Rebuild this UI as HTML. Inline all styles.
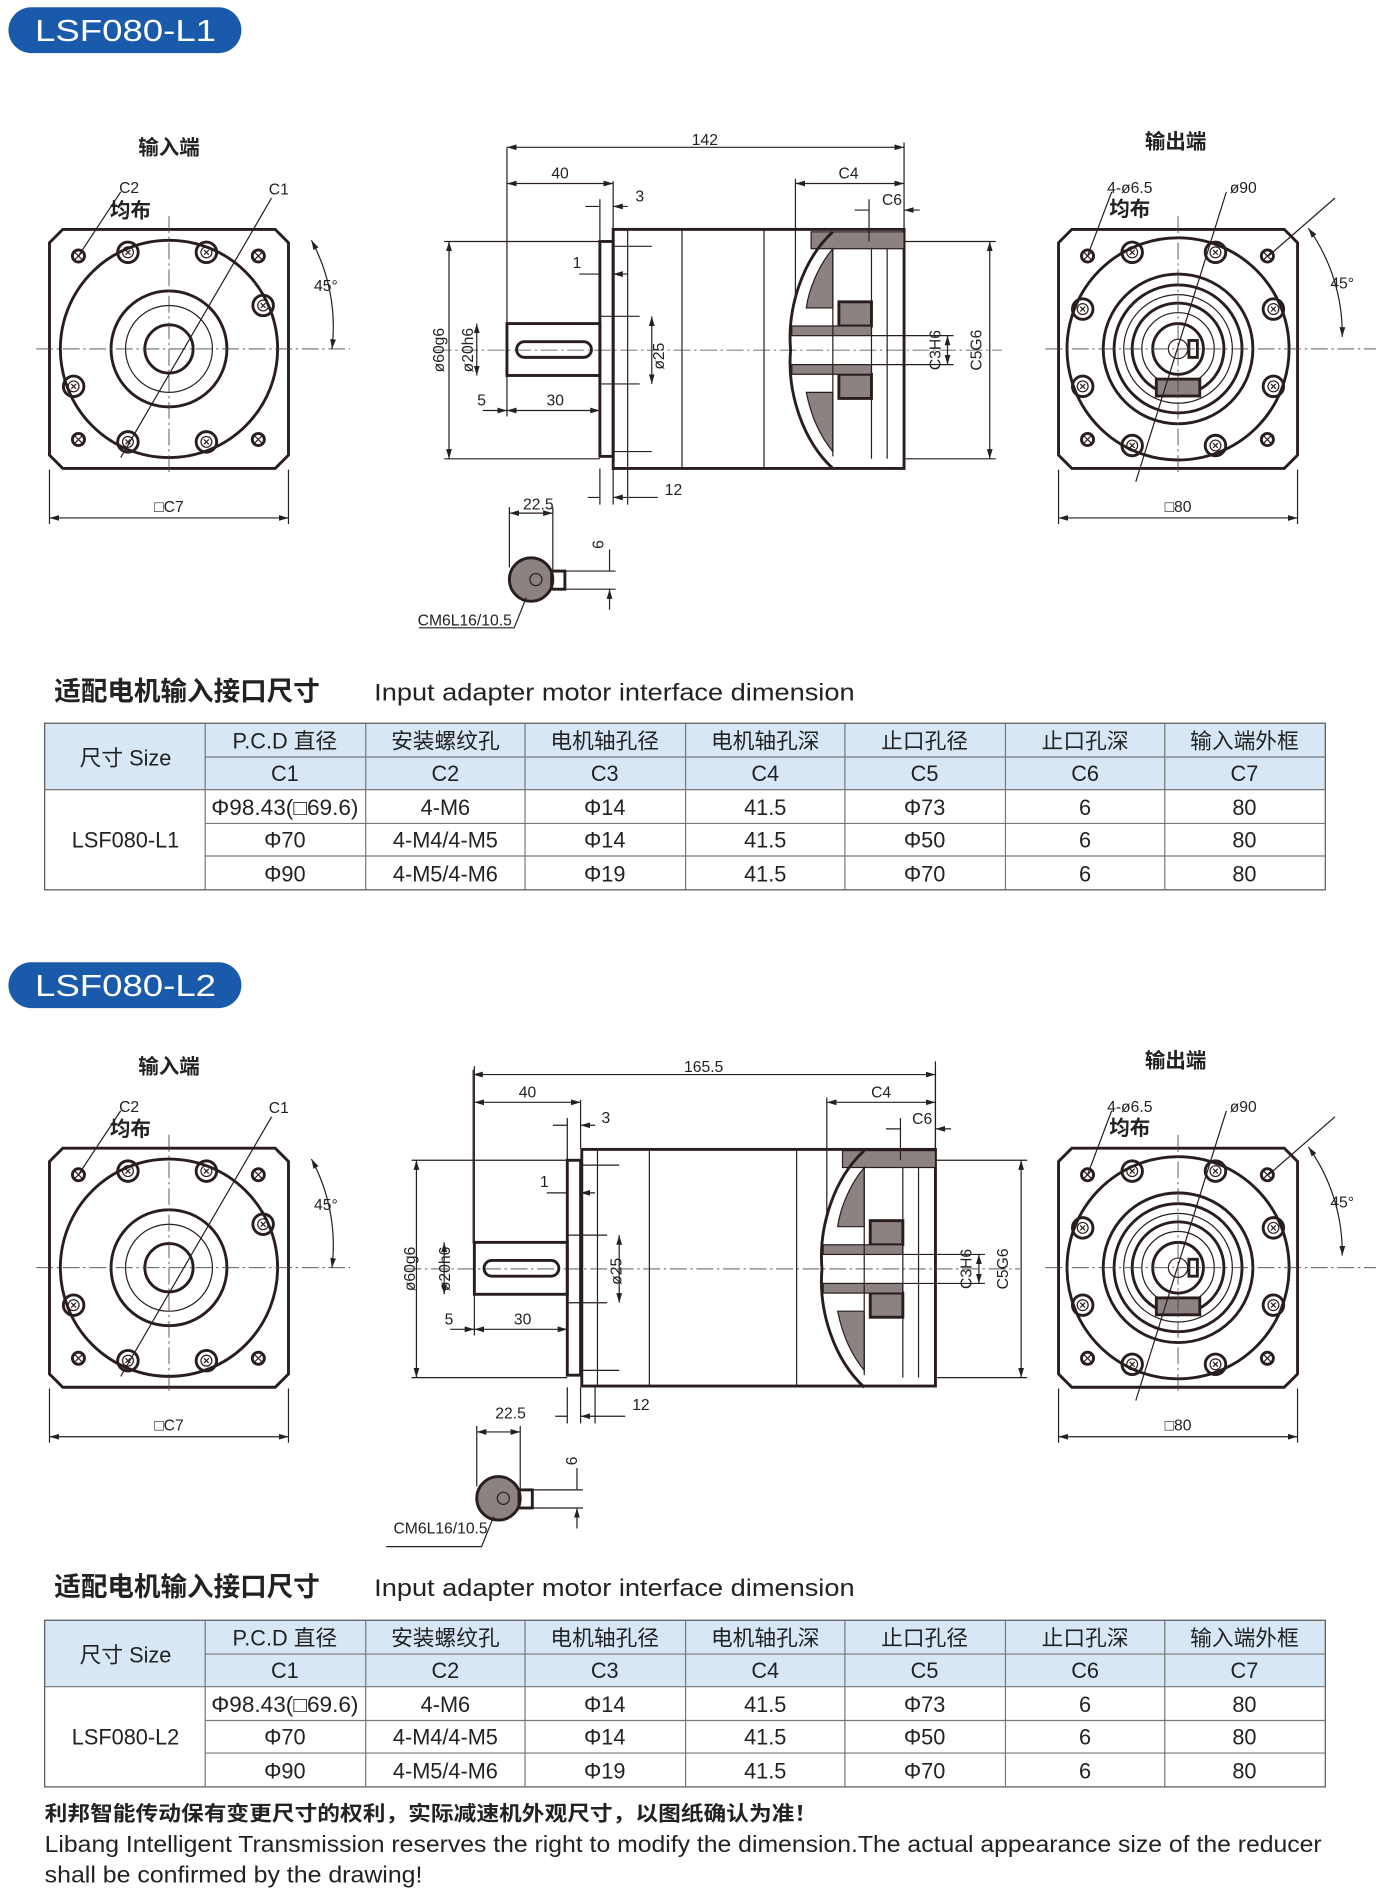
<!DOCTYPE html>
<html><head><meta charset="utf-8"><style>
html,body{margin:0;padding:0;background:#fff;width:1376px;height:1904px;overflow:hidden}
svg{display:block}
.l{stroke:#2a1d1d;fill:none;stroke-width:1}
.t{stroke:#2a1d1d;fill:none;stroke-width:2.4}
.c{stroke:#444;fill:none;stroke-width:0.7;stroke-dasharray:14 3 2 3}
.d{font-family:"Liberation Sans Narrow","Liberation Sans",sans-serif;font-size:13px;fill:#222;text-anchor:middle}
.cj{font-family:"Liberation Sans","Noto Sans CJK SC",sans-serif;font-weight:bold;font-size:17px;fill:#222;text-anchor:middle}
.tb{font-family:"Liberation Sans","Noto Sans CJK SC",sans-serif;font-size:18px;fill:#222;text-anchor:middle}
.hf{fill:#8c8282}
</style></head><body>
<svg width="1376" height="1904" viewBox="0 0 1140 1577" preserveAspectRatio="none" xmlns="http://www.w3.org/2000/svg">
<defs>
<marker id="a" viewBox="0 0 10 6" refX="10" refY="3" markerWidth="8" markerHeight="5" orient="auto-start-reverse"><path d="M0,0 L10,3 L0,6 Z" fill="#222"/></marker>
<g id="hole"><circle r="8.5" class="t"/><circle r="4.5" class="l"/><path d="M-2,-2L2,2M-2,2L2,-2" class="l"/></g>
<g id="xh"><circle r="5" class="t" stroke-width="1.6"/><path d="M-3.5,-3.5L3.5,3.5M-3.5,3.5L3.5,-3.5" class="l"/></g>
<path id="sq" d="M-88,-99 L88,-99 L99,-88 L99,88 L88,99 L-88,99 L-99,88 L-99,-88 Z" class="t"/>
<g id="inv">
<use href="#sq"/>
<circle r="90" class="t" stroke-width="3"/>
<circle r="48" class="t"/><circle r="36" class="l"/><circle r="20" class="t"/>
<use href="#hole" x="-34" y="-80"/><use href="#hole" x="31" y="-80"/><use href="#hole" x="78" y="-36"/>
<use href="#hole" x="-79" y="31"/><use href="#hole" x="-34" y="77"/><use href="#hole" x="31" y="77"/>
<use href="#xh" x="-75" y="-77"/><use href="#xh" x="74" y="-77"/><use href="#xh" x="-75" y="75"/><use href="#xh" x="74" y="75"/>
<path d="M-110,0H150M0,-110V105" class="c"/>
<path d="M-40,90 L85,-125" class="l"/>
<path d="M-75,-77 L-40,-130" class="l"/>
<path d="M118,-90 A150,150 0 0 1 135,0" class="l" marker-start="url(#a)" marker-end="url(#a)"/>
<path d="M-99,100V145M99,100V145" class="l"/>
<path d="M-99,140H99" class="l" marker-start="url(#a)" marker-end="url(#a)"/>
</g>
<g id="outv">
<use href="#sq"/>
<circle r="92" class="t" stroke-width="3"/>
<circle r="62" class="t"/><circle r="53" class="t"/><circle r="45" class="l"/><circle r="38" class="t"/><circle r="30" class="l"/><circle r="21" class="t"/><circle r="8" class="l"/>
<rect x="9" y="-7" width="7" height="14" class="t"/>
<rect x="-18" y="25" width="36" height="14" class="t hf"/>
<use href="#hole" x="-38" y="-80"/><use href="#hole" x="31" y="-80"/><use href="#hole" x="79" y="-33"/><use href="#hole" x="79" y="31"/>
<use href="#hole" x="31" y="80"/><use href="#hole" x="-38" y="80"/><use href="#hole" x="-79" y="31"/><use href="#hole" x="-79" y="-33"/>
<use href="#xh" x="-75" y="-77"/><use href="#xh" x="74" y="-77"/><use href="#xh" x="-75" y="75"/><use href="#xh" x="74" y="75"/>
<path d="M-110,0H175M0,-110V105" class="c"/>
<path d="M-35,110 L40,-130" class="l"/>
<path d="M-75,-77 L-55,-130" class="l"/>
<path d="M75,-77 L130,-125" class="l"/>
<path d="M108,-100 A150,150 0 0 1 136,-10" class="l" marker-start="url(#a)" marker-end="url(#a)"/>
<path d="M-99,100V145M99,100V145" class="l"/>
<path d="M-99,140H99" class="l" marker-start="url(#a)" marker-end="url(#a)"/>
</g>
<g id="shaftL">
<rect x="420" y="268" width="77" height="43" class="t"/>
<rect x="428" y="283" width="62" height="13" rx="6.5" class="t"/>
<rect x="497" y="200" width="11" height="178" class="t"/>
<path d="M508,204H540M508,374H540M497,262H530M497,318H530" class="l"/>
<path d="M420,122V268M497,165V200M508,150V190M420,311V345M497,311V345M497,388V418M508,388V418" class="l"/>
<path d="M368,200H497M368,380H497" class="l"/>
<path d="M372,200V380" class="l" marker-start="url(#a)" marker-end="url(#a)"/>
<path d="M395,268V311" class="l" marker-start="url(#a)" marker-end="url(#a)"/>
<path d="M540,262V318" class="l" marker-start="url(#a)" marker-end="url(#a)"/>
<path d="M420,152H508" class="l" marker-start="url(#a)" marker-end="url(#a)"/>
<path d="M485,171H497M520,171H508" class="l" marker-end="url(#a)"/>
<path d="M480,227H497M520,227H508" class="l" marker-end="url(#a)"/>
<path d="M400,340H420" class="l" marker-end="url(#a)"/><path d="M420,340H497" class="l" marker-start="url(#a)" marker-end="url(#a)"/>
<path d="M487,412H497M545,412H508" class="l" marker-end="url(#a)"/><path d="M520,388V418" class="l"/>
<circle cx="440" cy="480" r="18" class="t hf"/>
<circle cx="444" cy="480" r="5" class="l" fill="#fff"/>
<rect x="457" y="473" width="11" height="15" class="t" fill="#fff"/>
<path d="M422,420V470M458,420V473M468,473H510M468,488H510" class="l"/>
<path d="M422,425H458" class="l" marker-start="url(#a)" marker-end="url(#a)"/>
<path d="M505,455V473M505,505V488" class="l" marker-end="url(#a)"/>
<path d="M347,520H426L436,495" class="l"/>
</g>
<g id="cutR">
<rect x="672" y="192" width="77" height="14" class="l hf"/>
<path d="M690,206 C678,220 670,240 668,255 L690,255 Z" class="l hf"/>
<rect x="695" y="250" width="27" height="20" class="t hf"/>
<rect x="695" y="310" width="27" height="20" class="t hf"/>
<rect x="656" y="270" width="66" height="8" class="l hf"/>
<rect x="656" y="302" width="66" height="8" class="l hf"/>
<path d="M690,325 L668,325 C672,345 680,362 690,374 Z" class="l hf"/>
<path d="M690,192 C665,215 652,255 655,290 C652,325 665,365 690,388" class="t"/>
<path d="M722,278H749M722,302H749M690,206V378M722,206V380M735,206V380" class="l"/>
<path d="M659,152H749" class="l" marker-start="url(#a)" marker-end="url(#a)"/>
<path d="M659,148V250M749,118V190" class="l"/>
<path d="M708,174H720M762,174H749" class="l" marker-end="url(#a)"/><path d="M720,165V200" class="l"/>
<path d="M749,278H790M749,302H790M749,200H825M749,380H825" class="l"/>
<path d="M785,278V302" class="l" marker-start="url(#a)" marker-end="url(#a)"/>
<path d="M820,200V380" class="l" marker-start="url(#a)" marker-end="url(#a)"/>
</g>
</defs>

<!-- ===== L1 ===== -->
<rect x="7" y="6" width="193" height="38" rx="19" fill="#1a5aab"/>
<text x="104" y="34" font-family="Liberation Sans,sans-serif" font-size="25" fill="#fff" text-anchor="middle" textLength="150" lengthAdjust="spacingAndGlyphs">LSF080-L1</text>

<text x="140" y="128" class="cj">输入端</text>
<text x="974" y="123" class="cj">输出端</text>
<use href="#inv" x="140" y="289"/>
<text x="107" y="160" class="d">C2</text><text x="108" y="180" class="cj" font-size="14">均布</text>
<text x="231" y="161" class="d">C1</text><text x="270" y="241" class="d">45°</text>
<text x="140" y="424" class="d">□C7</text>
<use href="#outv" x="976" y="289"/>
<text x="936" y="160" class="d">4-ø6.5</text><text x="936" y="179" class="cj" font-size="14">均布</text>
<text x="1030" y="160" class="d">ø90</text><text x="1112" y="239" class="d">45°</text>
<text x="976" y="424" class="d">□80</text>

<!-- center view L1 -->
<rect x="508" y="190" width="241" height="198" class="t"/>
<path d="M520,190V388M565,190V388M633,190V388" class="l"/>
<path d="M360,290H830" class="c"/>
<path d="M420,122H749" class="l" marker-start="url(#a)" marker-end="url(#a)"/>
<use href="#shaftL"/>
<use href="#cutR"/>
<text x="584" y="120" class="d">142</text><text x="464" y="148" class="d">40</text>
<text x="530" y="167" class="d">3</text><text x="703" y="148" class="d">C4</text>
<text x="739" y="170" class="d">C6</text><text x="478" y="222" class="d">1</text>
<text transform="translate(368,290) rotate(-90)" class="d">ø60g6</text>
<text transform="translate(392,290) rotate(-90)" class="d">ø20h6</text>
<text transform="translate(550,295) rotate(-90)" class="d">ø25</text>
<text transform="translate(779,290) rotate(-90)" class="d">C3H6</text>
<text transform="translate(813,290) rotate(-90)" class="d">C5G6</text>
<text x="399" y="336" class="d">5</text><text x="460" y="336" class="d">30</text>
<text x="558" y="410" class="d">12</text><text x="446" y="422" class="d">22.5</text>
<text transform="translate(500,451) rotate(-90)" class="d">6</text>
<text x="385" y="518" class="d">CM6L16/10.5</text>

<!-- title 1 -->
<text x="45" y="580" font-family="Liberation Sans,'Noto Sans CJK SC',sans-serif" font-weight="bold" font-size="22" fill="#222">适配电机输入接口尺寸</text>
<text x="310" y="580" font-family="Liberation Sans,sans-serif" font-size="20" fill="#222" textLength="398" lengthAdjust="spacingAndGlyphs">Input adapter motor interface dimension</text>

<!-- table 1 -->
<g id="tab1">
<rect x="37" y="599" width="1061" height="55" fill="#d7e7f6"/>
<rect x="37" y="599" width="1061" height="138" fill="none" stroke="#555" stroke-width="1"/>
<path d="M170,599V737M303,599V737M435,599V737M568,599V737M700,599V737M833,599V737M965,599V737M170,627H1098M37,654H1098M170,682H1098M170,709H1098" stroke="#777" stroke-width="1" fill="none"/>
<g class="tb">
<text x="104" y="634">尺寸 Size</text>
<text x="236" y="620">P.C.D 直径</text><text x="369" y="620">安装螺纹孔</text><text x="501" y="620">电机轴孔径</text><text x="634" y="620">电机轴孔深</text><text x="766" y="620">止口孔径</text><text x="899" y="620">止口孔深</text><text x="1031" y="620">输入端外框</text>
<text x="236" y="647">C1</text><text x="369" y="647">C2</text><text x="501" y="647">C3</text><text x="634" y="647">C4</text><text x="766" y="647">C5</text><text x="899" y="647">C6</text><text x="1031" y="647">C7</text>
<text x="104" y="702">LSF080-L1</text>
<text x="236" y="675" textLength="122" lengthAdjust="spacingAndGlyphs">Φ98.43(□69.6)</text><text x="369" y="675">4-M6</text><text x="501" y="675">Φ14</text><text x="634" y="675">41.5</text><text x="766" y="675">Φ73</text><text x="899" y="675">6</text><text x="1031" y="675">80</text>
<text x="236" y="702">Φ70</text><text x="369" y="702">4-M4/4-M5</text><text x="501" y="702">Φ14</text><text x="634" y="702">41.5</text><text x="766" y="702">Φ50</text><text x="899" y="702">6</text><text x="1031" y="702">80</text>
<text x="236" y="730">Φ90</text><text x="369" y="730">4-M5/4-M6</text><text x="501" y="730">Φ19</text><text x="634" y="730">41.5</text><text x="766" y="730">Φ70</text><text x="899" y="730">6</text><text x="1031" y="730">80</text>
</g>
</g>

<!-- ===== L2 ===== -->
<rect x="7" y="797" width="193" height="38" rx="19" fill="#1a5aab"/>
<text x="104" y="825" font-family="Liberation Sans,sans-serif" font-size="25" fill="#fff" text-anchor="middle" textLength="150" lengthAdjust="spacingAndGlyphs">LSF080-L2</text>

<text x="140" y="889" class="cj">输入端</text>
<text x="974" y="884" class="cj">输出端</text>
<use href="#inv" x="140" y="1050"/>
<text x="107" y="921" class="d">C2</text><text x="108" y="941" class="cj" font-size="14">均布</text>
<text x="231" y="922" class="d">C1</text><text x="270" y="1002" class="d">45°</text>
<text x="140" y="1185" class="d">□C7</text>
<use href="#outv" x="976" y="1050"/>
<text x="936" y="921" class="d">4-ø6.5</text><text x="936" y="940" class="cj" font-size="14">均布</text>
<text x="1030" y="921" class="d">ø90</text><text x="1112" y="1000" class="d">45°</text>
<text x="976" y="1185" class="d">□80</text>

<!-- center view L2 -->
<rect x="482" y="952" width="293" height="196" class="t"/>
<path d="M495,952V1148M538,952V1148M660,952V1148" class="l"/>
<path d="M335,1051H845" class="c"/>
<path d="M392,890H775" class="l" marker-start="url(#a)" marker-end="url(#a)"/>
<path d="M392,886V1030M775,886V952" class="l"/>
<use href="#shaftL" x="-27" y="761"/>
<use href="#cutR" x="26" y="761"/>
<text x="583" y="888" class="d">165.5</text><text x="437" y="909" class="d">40</text>
<text x="502" y="930" class="d">3</text><text x="730" y="909" class="d">C4</text>
<text x="764" y="931" class="d">C6</text><text x="451" y="983" class="d">1</text>
<text transform="translate(344,1051) rotate(-90)" class="d">ø60g6</text>
<text transform="translate(373,1051) rotate(-90)" class="d">ø20h6</text>
<text transform="translate(515,1053) rotate(-90)" class="d">ø25</text>
<text transform="translate(805,1051) rotate(-90)" class="d">C3H6</text>
<text transform="translate(835,1051) rotate(-90)" class="d">C5G6</text>
<text x="372" y="1097" class="d">5</text><text x="433" y="1097" class="d">30</text>
<text x="531" y="1168" class="d">12</text><text x="423" y="1175" class="d">22.5</text>
<text transform="translate(478,1210) rotate(-90)" class="d">6</text>
<text x="365" y="1270" class="d">CM6L16/10.5</text>

<!-- title 2 -->
<text x="45" y="1322" font-family="Liberation Sans,'Noto Sans CJK SC',sans-serif" font-weight="bold" font-size="22" fill="#222">适配电机输入接口尺寸</text>
<text x="310" y="1322" font-family="Liberation Sans,sans-serif" font-size="20" fill="#222" textLength="398" lengthAdjust="spacingAndGlyphs">Input adapter motor interface dimension</text>

<!-- table 2 -->
<g transform="translate(0,743)">
<rect x="37" y="599" width="1061" height="55" fill="#d7e7f6"/>
<rect x="37" y="599" width="1061" height="138" fill="none" stroke="#555" stroke-width="1"/>
<path d="M170,599V737M303,599V737M435,599V737M568,599V737M700,599V737M833,599V737M965,599V737M170,627H1098M37,654H1098M170,682H1098M170,709H1098" stroke="#777" stroke-width="1" fill="none"/>
<g class="tb">
<text x="104" y="634">尺寸 Size</text>
<text x="236" y="620">P.C.D 直径</text><text x="369" y="620">安装螺纹孔</text><text x="501" y="620">电机轴孔径</text><text x="634" y="620">电机轴孔深</text><text x="766" y="620">止口孔径</text><text x="899" y="620">止口孔深</text><text x="1031" y="620">输入端外框</text>
<text x="236" y="647">C1</text><text x="369" y="647">C2</text><text x="501" y="647">C3</text><text x="634" y="647">C4</text><text x="766" y="647">C5</text><text x="899" y="647">C6</text><text x="1031" y="647">C7</text>
<text x="104" y="702">LSF080-L2</text>
<text x="236" y="675" textLength="122" lengthAdjust="spacingAndGlyphs">Φ98.43(□69.6)</text><text x="369" y="675">4-M6</text><text x="501" y="675">Φ14</text><text x="634" y="675">41.5</text><text x="766" y="675">Φ73</text><text x="899" y="675">6</text><text x="1031" y="675">80</text>
<text x="236" y="702">Φ70</text><text x="369" y="702">4-M4/4-M5</text><text x="501" y="702">Φ14</text><text x="634" y="702">41.5</text><text x="766" y="702">Φ50</text><text x="899" y="702">6</text><text x="1031" y="702">80</text>
<text x="236" y="730">Φ90</text><text x="369" y="730">4-M5/4-M6</text><text x="501" y="730">Φ19</text><text x="634" y="730">41.5</text><text x="766" y="730">Φ70</text><text x="899" y="730">6</text><text x="1031" y="730">80</text>
</g>
</g>

<!-- footer -->
<text x="37" y="1508" font-family="Liberation Sans,'Noto Sans CJK SC',sans-serif" font-weight="bold" font-size="17" fill="#222" textLength="640" lengthAdjust="spacingAndGlyphs">利邦智能传动保有变更尺寸的权利，实际减速机外观尺寸，以图纸确认为准！</text>
<text x="37" y="1534" font-family="Liberation Sans,sans-serif" font-size="19" fill="#222" textLength="1058" lengthAdjust="spacingAndGlyphs">Libang Intelligent Transmission reserves the right to modify the dimension.The actual appearance size of the reducer</text>
<text x="37" y="1559" font-family="Liberation Sans,sans-serif" font-size="19" fill="#222" textLength="313" lengthAdjust="spacingAndGlyphs">shall be confirmed by the drawing!</text>
</svg>
</body></html>
